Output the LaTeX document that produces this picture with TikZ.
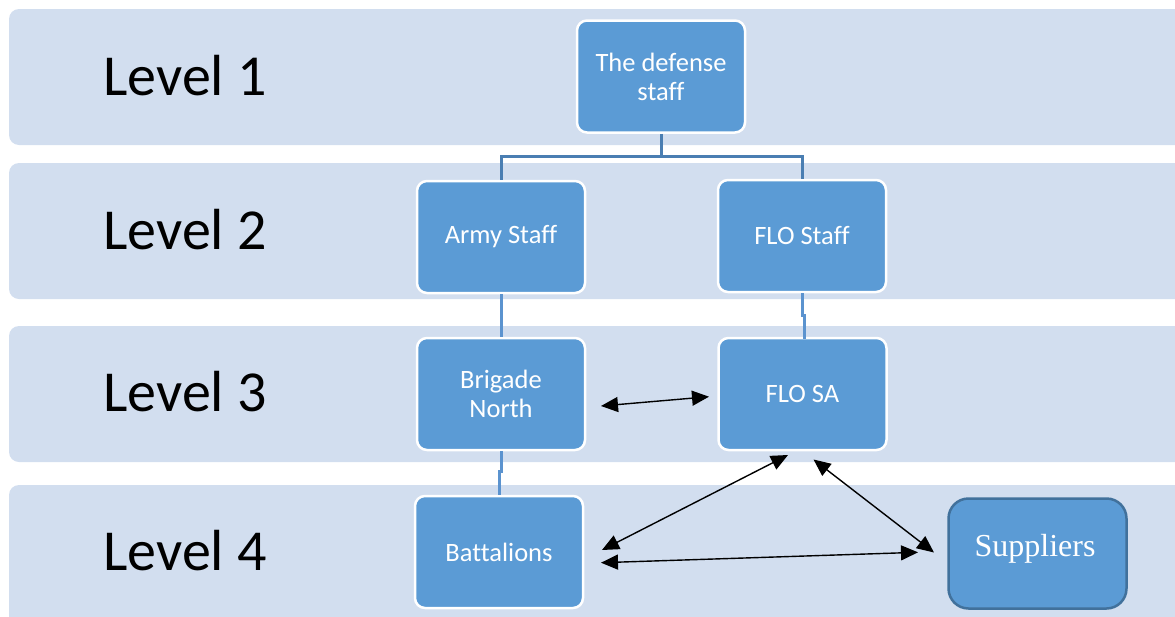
\documentclass[tikz,border=0pt]{standalone}
\usepackage{fontspec}
\setmainfont{Carlito}[Ligatures={NoCommon}]
\newfontfamily\serifface{Liberation Serif}
\usetikzlibrary{arrows.meta}
\definecolor{bandfill}{HTML}{D2DEEF}
\definecolor{boxfill}{HTML}{5B9BD5}
\definecolor{treeline}{HTML}{4A7EB2}
\definecolor{linkline}{HTML}{5B93CF}
\definecolor{supborder}{HTML}{41719C}
\tikzset{
  band/.style={fill=bandfill, draw=none, rounded corners=10pt},
  levellabel/.style={font=\fontsize{58}{60}\selectfont, text=black},
  orgbox/.style={draw=white, line width=2.5pt, fill=boxfill, rounded corners=10pt,
    minimum width=168pt, minimum height=112pt, inner sep=0pt, text=white,
    align=center, font=\fontsize{26.5}{29}\selectfont},
  supbox/.style={draw=supborder, line width=2.5pt, fill=boxfill, rounded corners=20pt,
    minimum width=178pt, minimum height=110pt, inner sep=0pt},
  suptext/.style={text=white, font=\serifface\fontsize{32}{34}\selectfont},
  tree/.style={draw=treeline, line width=3pt},
  link/.style={draw=linkline, line width=3pt},
  dual/.style={draw=black, line width=1.4pt,
    {Triangle[length=17pt,width=15pt]}-{Triangle[length=17pt,width=15pt]}}
}
\begin{document}
\begin{tikzpicture}[x=1pt,y=-1pt]
\useasboundingbox (0,0) rectangle (1175,616);
\clip (0,0) rectangle (1175,616);
% level bands
\fill[band] (9,9) rectangle (1200,145);
\fill[band] (9,163) rectangle (1200,299);
\fill[band] (9,326) rectangle (1200,462);
\fill[band] (9,485) rectangle (1200,640);
% level labels
\node[levellabel] (l1) at (185,76) {Level 1};
\node[levellabel] (l2) at (185,230) {Level 2};
\node[levellabel] (l3) at (185,392) {Level 3};
\node[levellabel] (l4) at (185,551) {Level 4};
% organisation boxes
\node[orgbox] (def) at (661,76.5) {The defense\\staff};
\node[orgbox] (army) at (501,237) {Army Staff};
\node[orgbox] (flostaff) at (802,236) {FLO Staff};
\node[orgbox] (brig) at (501,394) {Brigade\\North};
\node[orgbox] (flosa) at (802.5,394) {FLO SA};
\node[orgbox] (batt) at (499,552) {Battalions};
\node[supbox] (sup) at (1037.5,553.5) {};
\node[suptext] (suplabel) at (1035,548.5) {Suppliers};
% hierarchy lines
\draw[tree] (def.south) -- ++(0,23) -| (army.north);
\draw[tree] (def.south) ++(0,23) -| (flostaff.north);
\draw[link] (army.south) -- (brig.north);
\draw[link] (flostaff.south) -- ++(0,22) -- ++(2,0) -- ++(0,24);
\draw[link] (brig.south) -- ++(0,20) -| (batt.north);
% two-way links
\coordinate (a1s) at (601,406);
\coordinate (a1e) at (709,396.7);
\coordinate (a2s) at (602,550);
\coordinate (a2e) at (788,455);
\coordinate (a3s) at (813.5,459.5);
\coordinate (a3e) at (934,552.5);
\coordinate (a4s) at (601,562.7);
\coordinate (a4e) at (918,552.3);
\draw[dual] (a1s) -- (a1e);
\draw[dual] (a2s) -- (a2e);
\draw[dual] (a3s) -- (a3e);
\draw[dual] (a4s) -- (a4e);
\end{tikzpicture}
\end{document}
